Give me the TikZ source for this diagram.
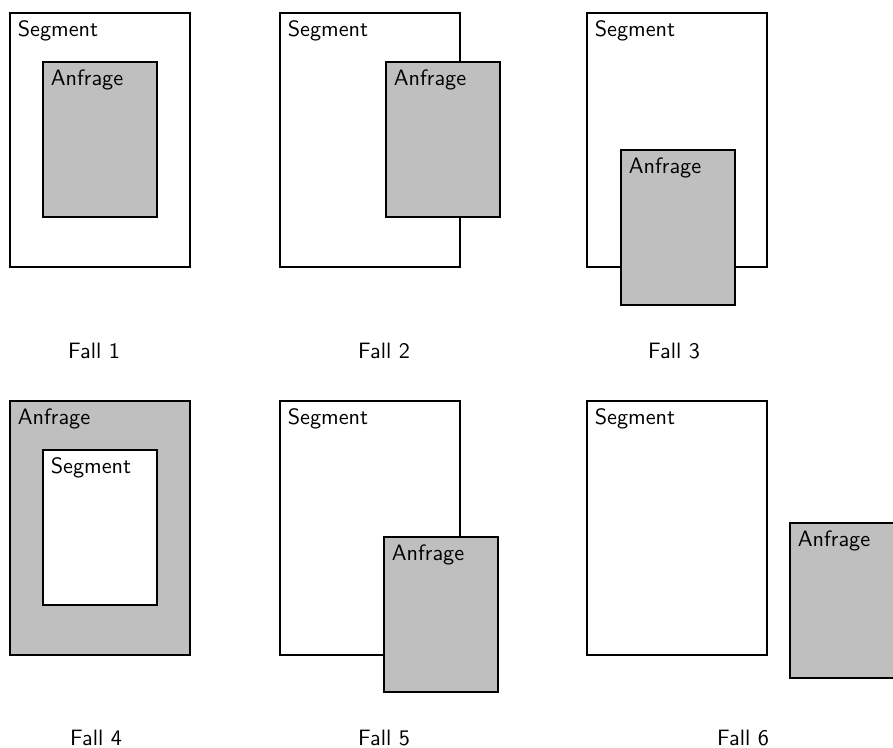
\documentclass[tikz,border=0pt]{standalone}
\usetikzlibrary{positioning}
\begin{document}
\begin{tikzpicture}[x=0.45pt,y=-0.45pt,
  segbig/.style={draw=black,fill=white,line width=0.85pt,minimum width=81pt,minimum height=114.3pt,anchor=north west,inner sep=0pt,outer sep=0pt},
  segsmall/.style={draw=black,fill=white,line width=0.85pt,minimum width=51.3pt,minimum height=69.75pt,anchor=north west,inner sep=0pt,outer sep=0pt},
  anfsmall/.style={draw=black,fill=black!25,line width=0.85pt,minimum width=51.3pt,minimum height=69.75pt,anchor=north west,inner sep=0pt,outer sep=0pt},
  anfbig/.style={draw=black,fill=black!25,line width=0.85pt,minimum width=81pt,minimum height=114.3pt,anchor=north west,inner sep=0pt,outer sep=0pt},
  lbl/.style={anchor=north west,font=\sffamily,inner sep=3.33pt},
  falllbl/.style={font=\sffamily}]
\clip (0,0) rectangle (893,748);
\useasboundingbox (0,0) rectangle (893,748);
% Fall 1
\node[segbig] (s1) at (10,13) {};
\node[lbl] (s1l) at (s1.north west) {Segment};
\node[anfsmall] (a1) at (43,62) {};
\node[lbl] (a1l) at (a1.north west) {Anfrage};
\node[falllbl] (f1) at (94,351) {Fall 1};
% Fall 2
\node[segbig] (s2) at (280,13) {};
\node[lbl] (s2l) at (s2.north west) {Segment};
\node[anfsmall] (a2) at (386,62) {};
\node[lbl] (a2l) at (a2.north west) {Anfrage};
\node[falllbl] (f2) at (384,351) {Fall 2};
% Fall 3
\node[segbig] (s3) at (587,13) {};
\node[lbl] (s3l) at (s3.north west) {Segment};
\node[anfsmall] (a3) at (621,150) {};
\node[lbl] (a3l) at (a3.north west) {Anfrage};
\node[falllbl] (f3) at (674,351) {Fall 3};
% Fall 4
\node[anfbig] (a4) at (10,401) {};
\node[lbl] (a4l) at (a4.north west) {Anfrage};
\node[segsmall] (s4) at (43,450) {};
\node[lbl] (s4l) at (s4.north west) {Segment};
\node[falllbl] (f4) at (96,738) {Fall 4};
% Fall 5
\node[segbig] (s5) at (280,401) {};
\node[lbl] (s5l) at (s5.north west) {Segment};
\node[anfsmall] (a5) at (384,537) {};
\node[lbl] (a5l) at (a5.north west) {Anfrage};
\node[falllbl] (f5) at (384,738) {Fall 5};
% Fall 6
\node[segbig] (s6) at (587,401) {};
\node[lbl] (s6l) at (s6.north west) {Segment};
\node[anfsmall] (a6) at (790,523) {};
\node[lbl] (a6l) at (a6.north west) {Anfrage};
\node[falllbl] (f6) at (743,738) {Fall 6};
\end{tikzpicture}
\end{document}
